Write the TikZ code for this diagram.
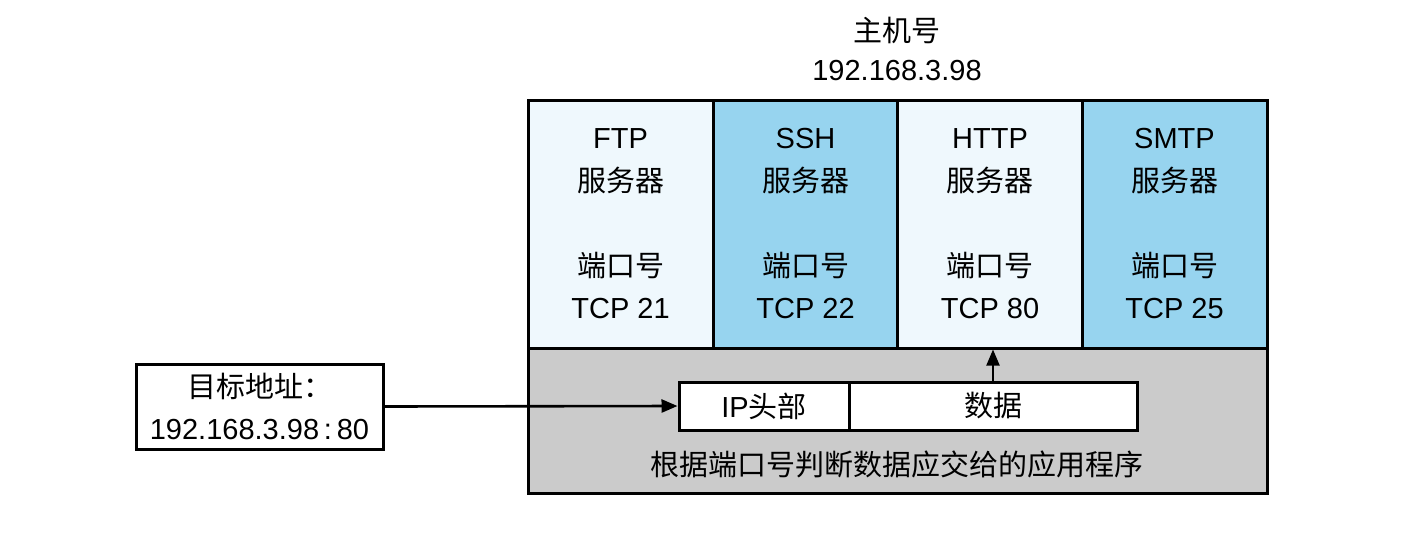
\documentclass[tikz,border=0pt]{standalone}
\usepackage{fontspec}
\setmainfont{Liberation Sans}
\newfontfamily\cjk{Noto Sans CJK SC}
\usetikzlibrary{arrows.meta}
\definecolor{lightblue}{HTML}{EFF8FD}
\definecolor{midblue}{HTML}{97D4EF}
\definecolor{graybg}{HTML}{CBCBCB}
\begin{document}
\begin{tikzpicture}[x=0.5pt,y=-0.5pt,
  txt/.style={font=\fontsize{14.5}{21.25}\selectfont, align=center},
  cell/.style={draw, line width=1.5pt, inner sep=0pt, minimum width=92.5pt, minimum height=124pt, txt},
  box/.style={draw, line width=1.5pt, inner sep=0pt, fill=white, txt},
  arr/.style={line width=1.3pt, -{Triangle[length=8pt,width=6.5pt]}}]
\useasboundingbox (0,0) rectangle (1414,536);
\node[txt] (title) at (897,49) {{\cjk 主机号}\\[-2pt]192.168.3.98};
\node[cell, fill=graybg, minimum width=369.5pt, minimum height=72.5pt] (lower) at (897.5,420.5) {};
\node[cell, fill=lightblue] (ftp) at (620.5,224) {FTP\\{\cjk 服务器}\\[21.25pt]{\cjk 端口号}\\TCP 21};
\node[cell, fill=midblue] (ssh) at (805.5,224) {SSH\\{\cjk 服务器}\\[21.25pt]{\cjk 端口号}\\TCP 22};
\node[cell, fill=lightblue] (http) at (990,224) {HTTP\\{\cjk 服务器}\\[21.25pt]{\cjk 端口号}\\TCP 80};
\node[cell, fill=midblue] (smtp) at (1174.5,224) {SMTP\\{\cjk 服务器}\\[21.25pt]{\cjk 端口号}\\TCP 25};
\node[box, minimum width=85pt, minimum height=24pt] (ip) at (764,406) {IP{\cjk 头部}};
\node[box, minimum width=144pt, minimum height=24pt] (data) at (993,406) {{\cjk 数据}};
\node[txt] (rule) at (897,464) {{\cjk 根据端口号判断数据应交给的应用程序}};
\node[box, minimum width=123.5pt, minimum height=42.5pt] (target) at (259.5,406.5) {{\cjk 目标地址：}\\192.168.3.98\,:\,80};
\draw[arr] (target.east) -- (ip.west);
\draw[arr, line width=1pt] (data.north) -- (data.north |- http.south);
\end{tikzpicture}
\end{document}
